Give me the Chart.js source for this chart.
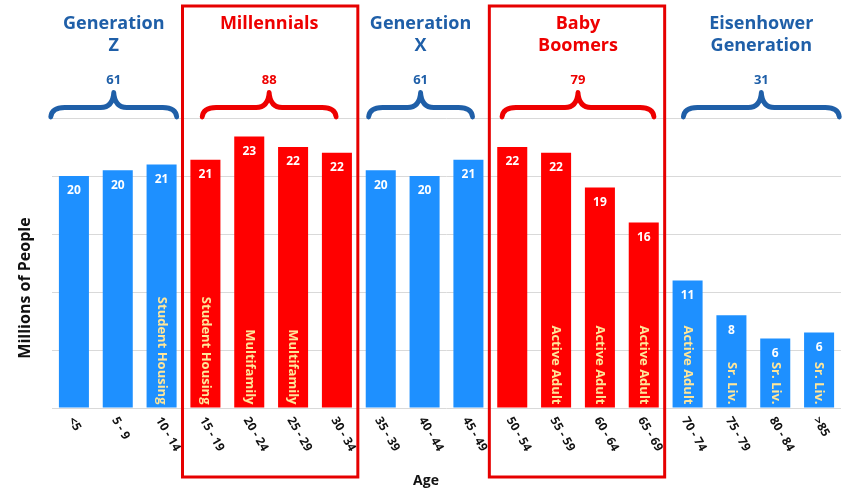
<!DOCTYPE html>
<html>
<head>
<meta charset="utf-8">
<script src="https://cdn.jsdelivr.net/npm/chart.js@4/dist/chart.umd.min.js"></script>
<style>
  html, body { margin: 0; padding: 0; background: #ffffff; }
  canvas { display: block; }
</style>
</head>
<body>
<canvas id="c" width="848" height="500"></canvas>
<script>
// ---------- DATA ----------
const ages = ['<5', '5 - 9', '10 - 14', '15 - 19', '20 - 24', '25 - 29', '30 - 34', '35 - 39', '40 - 44',
  '45 - 49', '50 - 54', '55 - 59', '60 - 64', '65 - 69', '70 - 74', '75 - 79', '80 - 84', '>85'];
const population = [20.0, 20.5, 21.0, 21.4, 23.4, 22.5, 22.0, 20.5, 20.0,
  21.4, 22.5, 22.0, 19.0, 16.0, 11.0, 8.0, 6.0, 6.5];
const valueLabels = ['20', '20', '21', '21', '23', '22', '22', '20', '20',
  '21', '22', '22', '19', '16', '11', '8', '6', '6'];
const barNotes = ['', '', 'Student Housing', 'Student Housing', 'Multifamily', 'Multifamily', '', '', '',
  '', '', 'Active Adult', 'Active Adult', 'Active Adult', 'Active Adult', 'Sr. Liv.', 'Sr. Liv.', 'Sr. Liv.'];
const groupNames = [['Generation', 'Z'], ['Millennials'], ['Generation', 'X'], ['Baby', 'Boomers'], ['Eisenhower', 'Generation']];
const groupTotals = ['61', '88', '61', '79', '31'];
const groupFirst = [0, 3, 7, 10, 14];
const groupLast = [2, 6, 9, 13, 17];
const groupHighlighted = [false, true, false, true, false];
const yTicks = [0, 5, 10, 15, 20, 25];
const xTitle = 'Age';
const yTitle = 'Millions of People';

// ---------- STYLE ----------
const BLUE_BAR = '#1E90FF';
const RED_BAR = '#FF0000';
const BLUE_TEXT = '#1F5FA8';
const RED_TEXT = '#EE0000';
const FONT = '"Open Sans", "DejaVu Sans", sans-serif';
const headerShift = [-4, -2, -4, 0, 8];
const braceHalf = [65, 69, 54, 78, 80];

function groupOf(i) {
  for (let g = 0; g < groupFirst.length; g++) if (i >= groupFirst[g] && i <= groupLast[g]) return g;
  return 0;
}
const barColors = ages.map((_, i) => groupHighlighted[groupOf(i)] ? RED_BAR : BLUE_BAR);

function drawBrace(ctx, cx, hw, color) {
  const L = cx - hw, R = cx + hw;
  const tipY = 92.5, lineY = 107.5, endY = 117;
  ctx.save();
  ctx.strokeStyle = color;
  ctx.lineWidth = 4.8;
  ctx.lineCap = 'round';
  ctx.lineJoin = 'round';
  ctx.beginPath();
  ctx.moveTo(L + 2, endY);
  ctx.quadraticCurveTo(L + 3, lineY, L + 16, lineY);
  ctx.lineTo(cx - 13, lineY);
  ctx.quadraticCurveTo(cx - 1, lineY, cx, tipY);
  ctx.quadraticCurveTo(cx + 1, lineY, cx + 13, lineY);
  ctx.lineTo(R - 16, lineY);
  ctx.quadraticCurveTo(R - 3, lineY, R - 2, endY);
  ctx.stroke();
  ctx.restore();
}

const overlay = {
  id: 'overlay',
  afterDatasetsDraw(chart) {
    const ctx = chart.ctx;
    const meta = chart.getDatasetMeta(0);
    meta.data.forEach((bar, i) => {
      ctx.save();
      ctx.fillStyle = '#FFFFFF';
      ctx.font = 'bold 12px ' + FONT;
      ctx.textAlign = 'center';
      ctx.textBaseline = 'middle';
      ctx.fillText(valueLabels[i], bar.x, bar.y + 15);
      if (barNotes[i]) {
        ctx.translate(bar.x, bar.base - 3);
        ctx.rotate(Math.PI / 2);
        ctx.textAlign = 'right';
        ctx.fillStyle = '#FFE699';
        ctx.font = 'bold 13px ' + FONT;
        ctx.fillText(barNotes[i], 0, 0);
      }
      ctx.restore();
    });
  },
  afterDraw(chart) {
    const ctx = chart.ctx;
    const xs = chart.scales.x;
    const step = xs.getPixelForValue(1) - xs.getPixelForValue(0);
    // x tick labels, rotated clockwise
    ages.forEach((lab, i) => {
      ctx.save();
      ctx.translate(xs.getPixelForValue(i) - 3, 418);
      ctx.rotate(Math.PI / 3);
      ctx.font = 'bold 12px ' + FONT;
      ctx.fillStyle = '#111111';
      ctx.textAlign = 'left';
      ctx.textBaseline = 'middle';
      ctx.fillText(lab, 0, 0);
      ctx.restore();
    });
    // axis titles
    ctx.save();
    ctx.fillStyle = '#111111';
    ctx.font = 'bold 14px ' + FONT;
    ctx.textAlign = 'center';
    ctx.textBaseline = 'middle';
    ctx.fillText(xTitle, 426, 481);
    ctx.translate(25, 288);
    ctx.rotate(-Math.PI / 2);
    ctx.font = 'bold 16px ' + FONT;
    ctx.fillText(yTitle, 0, 0);
    ctx.restore();
    // group headers
    groupNames.forEach((lines, g) => {
      const left = xs.getPixelForValue(groupFirst[g]) - step / 2;
      const right = xs.getPixelForValue(groupLast[g]) + step / 2;
      const cx = (left + right) / 2 + headerShift[g];
      const color = groupHighlighted[g] ? RED_TEXT : BLUE_TEXT;
      ctx.save();
      ctx.fillStyle = color;
      ctx.textAlign = 'center';
      ctx.textBaseline = 'middle';
      ctx.font = 'bold 18px ' + FONT;
      lines.forEach((t, k) => ctx.fillText(t, cx, 24 + k * 22));
      ctx.font = 'bold 13px ' + FONT;
      ctx.fillText(groupTotals[g], cx, 80);
      ctx.restore();
      drawBrace(ctx, cx, braceHalf[g], color);
      if (groupHighlighted[g]) {
        ctx.save();
        ctx.strokeStyle = '#E60000';
        ctx.lineWidth = 3;
        ctx.strokeRect(left - 1, 6, right - left, 471);
        ctx.restore();
      }
    });
  }
};

new Chart(document.getElementById('c'), {
  type: 'bar',
  data: {
    labels: ages,
    datasets: [{
      data: population,
      backgroundColor: barColors,
      borderWidth: 0,
      categoryPercentage: 1.0,
      barPercentage: 0.685
    }]
  },
  options: {
    responsive: false,
    devicePixelRatio: 1,
    animation: false,
    layout: { padding: { top: 118, left: 12, right: 7, bottom: 0 } },
    plugins: { legend: { display: false }, tooltip: { enabled: false } },
    scales: {
      x: {
        grid: { display: false },
        border: { display: false },
        ticks: { display: false },
        afterFit(scale) { scale.height = 92; }
      },
      y: {
        min: 0,
        max: 25,
        afterBuildTicks(scale) { scale.ticks = yTicks.map(v => ({ value: v })); },
        grid: { color: '#D9D9D9', lineWidth: 1, drawTicks: false },
        border: { display: false },
        ticks: { display: false },
        afterFit(scale) { scale.width = 40; }
      }
    }
  },
  plugins: [overlay]
});
</script>
</body>
</html>
